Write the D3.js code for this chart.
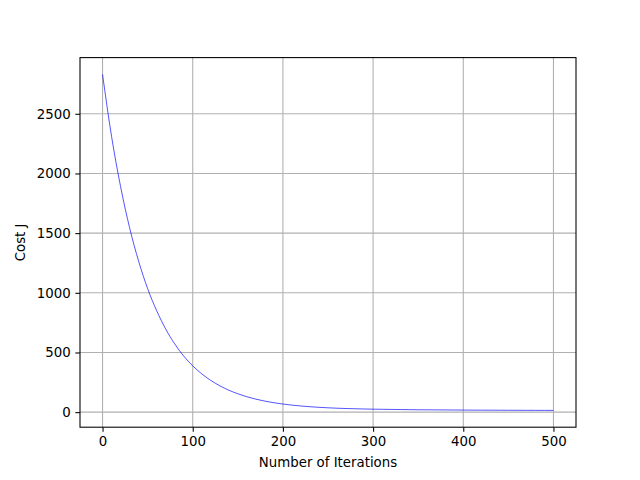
<!DOCTYPE html>
<html>
<head>
<meta charset="utf-8">
<script src="https://cdn.jsdelivr.net/npm/d3@7"></script>
<style>
  body { margin: 0; background: #fff; }
  text { font-family: "DejaVu Sans", sans-serif; font-size: 13.33px; fill: #000; }
</style>
</head>
<body>
<div id="chart"></div>
<script>
// cost value, one point every 10 iterations
const iterations = d3.range(0, 501, 10);
const cost = [
  2830, 2310, 1890, 1545, 1265, 1035, 850, 697, 572, 470,
  388, 321, 266, 221, 184, 154, 129, 109, 92.5, 79,
  68, 59, 51.5, 45.5, 40.5, 36.5, 33, 30.5, 28.5, 26.5,
  25, 24, 23, 22, 21, 20, 19.5, 19, 18.5, 18,
  17.5, 17, 16.7, 16.4, 16.1, 15.8, 15.5, 15.3, 15.1, 14.9,
  14.7
];
const xTicks = [0, 100, 200, 300, 400, 500];
const yTicks = [0, 500, 1000, 1500, 2000, 2500];

const data = iterations.map((it, i) => ({it: it, cost: cost[i]}));

const width = 640;
const height = 480;
const marginLeft = 80;
const marginRight = 64;
const marginTop = 57.6;
const marginBottom = 52.8;

const svg = d3.select("#chart").append("svg")
  .attr("width", width)
  .attr("height", height);

// matplotlib style 5% padding on both axes
const xMin = d3.min(iterations), xMax = d3.max(iterations);
const xPad = (xMax - xMin) * 0.05;
const x = d3.scaleLinear()
  .domain([xMin - xPad, xMax + xPad])
  .range([marginLeft, width - marginRight]);

const yMin = d3.min(cost), yMax = d3.max(cost);
const yPad = (yMax - yMin) * 0.05;
const y = d3.scaleLinear()
  .domain([yMin - yPad, yMax + yPad])
  .range([height - marginBottom, marginTop]);

//grid lines
svg.append("g").selectAll("line.vgrid")
  .data(xTicks)
  .join("line")
    .attr("x1", d => x(d)).attr("x2", d => x(d))
    .attr("y1", marginTop).attr("y2", height - marginBottom)
    .attr("stroke", "#b0b0b0").attr("stroke-width", 1.07);

svg.append("g").selectAll("line.hgrid")
  .data(yTicks)
  .join("line")
    .attr("x1", marginLeft).attr("x2", width - marginRight)
    .attr("y1", d => y(d)).attr("y2", d => y(d))
    .attr("stroke", "#b0b0b0").attr("stroke-width", 1.07);

//the cost curve
const line = d3.line()
  .x(d => x(d.it))
  .y(d => y(d.cost))
  .curve(d3.curveMonotoneX);

svg.append("path")
  .datum(data)
  .attr("fill", "none")
  .attr("stroke", "#0000ff")
  .attr("stroke-width", 0.67)
  .attr("d", line);

//axes
const fmt = d3.format("d");
const xAxis = svg.append("g")
  .attr("transform", `translate(0,${height - marginBottom})`)
  .call(d3.axisBottom(x).tickValues(xTicks).tickFormat(fmt).tickSize(4.67).tickPadding(4.67).tickSizeOuter(0));

const yAxis = svg.append("g")
  .attr("transform", `translate(${marginLeft},0)`)
  .call(d3.axisLeft(y).tickValues(yTicks).tickFormat(fmt).tickSize(4.67).tickPadding(4.67).tickSizeOuter(0));

for (const ax of [xAxis, yAxis]) {
  ax.select(".domain").remove();
  ax.selectAll(".tick line").attr("stroke", "#000").attr("stroke-width", 1.07);
  ax.selectAll(".tick text")
    .style("font-family", "'DejaVu Sans', sans-serif")
    .style("font-size", "13.33px")
    .attr("fill", "#000");
}

//frame
svg.append("rect")
  .attr("x", marginLeft)
  .attr("y", marginTop)
  .attr("width", width - marginLeft - marginRight)
  .attr("height", height - marginTop - marginBottom)
  .attr("fill", "none")
  .attr("stroke", "#000")
  .attr("stroke-width", 1.07);

//labels
svg.append("text")
  .attr("x", (marginLeft + width - marginRight) / 2)
  .attr("y", 467)
  .attr("text-anchor", "middle")
  .text("Number of Iterations");

svg.append("text")
  .attr("transform", `translate(25,${(marginTop + height - marginBottom) / 2}) rotate(-90)`)
  .attr("text-anchor", "middle")
  .text("Cost J");
</script>
</body>
</html>
